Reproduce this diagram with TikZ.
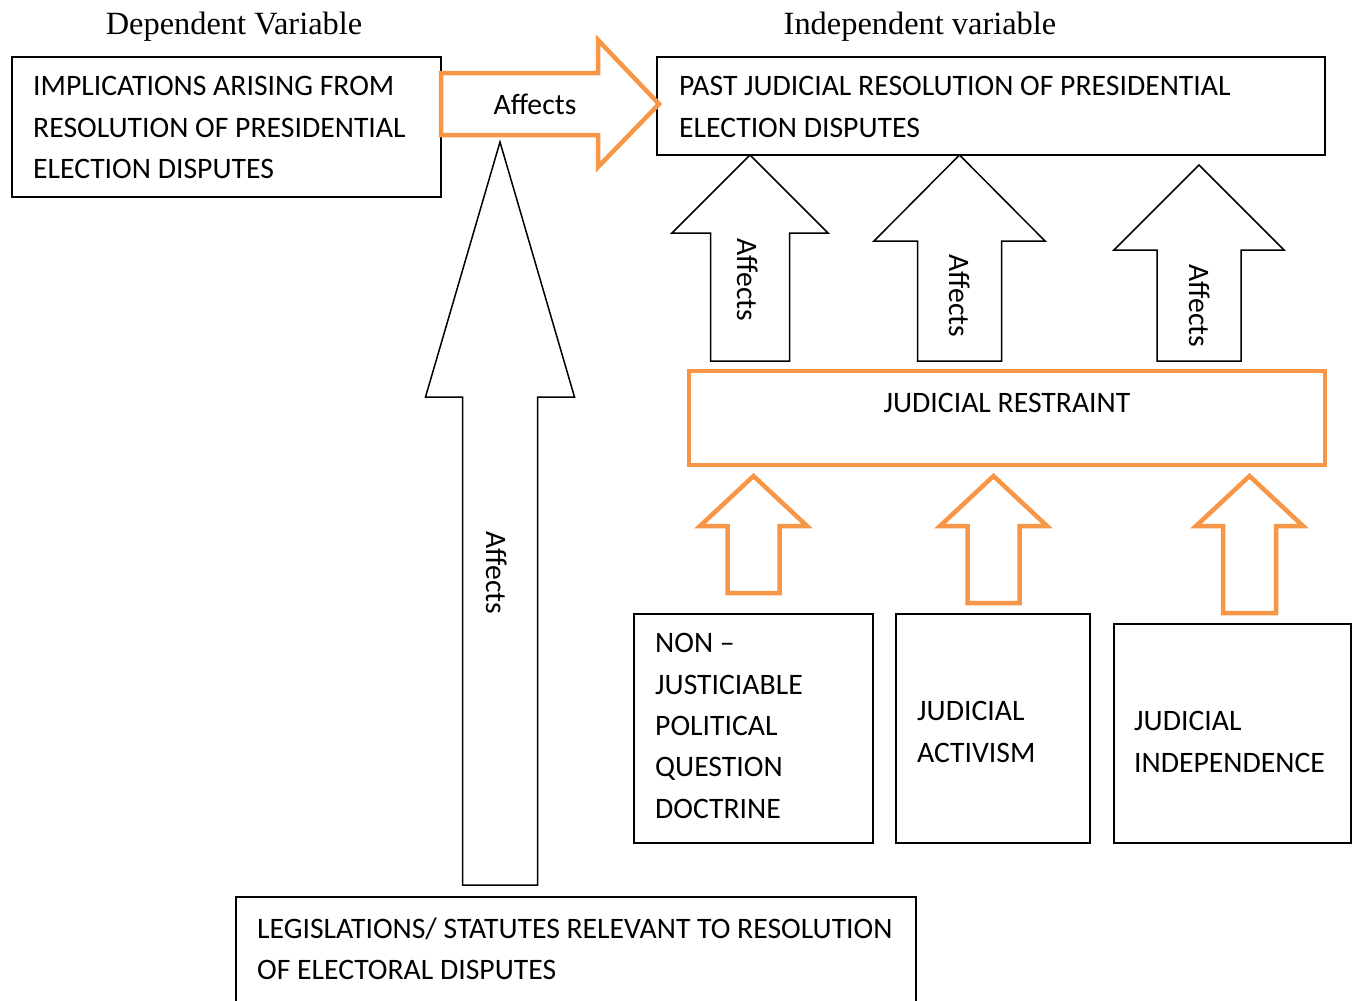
\documentclass[tikz,border=0pt]{standalone}
\usepackage{fontspec}
\newfontfamily\calib{Carlito}
\newfontfamily\timesf{Liberation Serif}
\definecolor{acorange}{RGB}{247,150,70}
\newcommand{\blockup}[7]{\draw[#1] (#2,#3) -- ({#2+#4},#5) -- ({#2+#6},#5) -- ({#2+#6},#7) -- ({#2-#6},#7) -- ({#2-#6},#5) -- ({#2-#4},#5) -- cycle;}
\begin{document}
\begin{tikzpicture}[x=1pt,y=-1pt,
  box/.style={draw=black, line width=1.5pt, inner sep=0pt, outer sep=0pt, anchor=north west},
  obox/.style={draw=acorange, line width=4.5pt, inner sep=0pt, outer sep=0pt, anchor=north west},
  txt/.style={inner sep=0pt, align=left, anchor=north west, font=\calib\fontsize{29.7}{41.3}\selectfont},
  lbl/.style={inner sep=0pt, anchor=center, font=\calib\fontsize{29.7}{34}\selectfont},
  ttl/.style={inner sep=0pt, anchor=center, font=\timesf\fontsize{32.4}{36}\selectfont},
  blk/.style={draw=black, line width=1.5pt, line join=miter, fill=white},
  oblk/.style={draw=acorange, line width=4.5pt, line join=miter, fill=white},
]
\useasboundingbox (0,0) rectangle (1357,1001);
\clip (0,0) rectangle (1357,1001);
\fill[white] (0,0) rectangle (1357,1001);

% titles
\node[ttl] (dep) at (234,27) {Dependent Variable};
\node[ttl] (indep) at (920,27) {Independent variable};

% boxes
\node[box, minimum width=429pt, minimum height=140pt] (imp) at (12,57) {};
\node[txt] (imptxt) at (33,76.5) {IMPLICATIONS ARISING FROM\\RESOLUTION OF PRESIDENTIAL\\ELECTION DISPUTES};

\node[box, minimum width=668pt, minimum height=98pt] (past) at (657,57) {};
\node[txt] (pasttxt) at (679,76.5) {PAST JUDICIAL RESOLUTION OF PRESIDENTIAL\\ELECTION DISPUTES};

\node[obox, minimum width=636pt, minimum height=94pt] (restr) at (689,371) {};
\node[lbl] (restrtxt) at (1007,403) {JUDICIAL RESTRAINT};

\node[box, minimum width=239pt, minimum height=229pt] (non) at (634,614) {};
\node[txt] (nontxt) at (655,633.5) {NON –\\JUSTICIABLE\\POLITICAL\\QUESTION\\DOCTRINE};

\node[box, minimum width=194pt, minimum height=229pt] (act) at (896,614) {};
\node[txt] (acttxt) at (917,701.5) {JUDICIAL\\ACTIVISM};

\node[box, minimum width=237pt, minimum height=219pt] (ind) at (1114,624) {};
\node[txt] (indtxt) at (1134,711.5) {JUDICIAL\\INDEPENDENCE};

\node[box, minimum width=680pt, minimum height=120pt] (leg) at (236,897) {};
\node[txt] (legtxt) at (257,917.5) {LEGISLATIONS/ STATUTES RELEVANT TO RESOLUTION\\OF ELECTORAL DISPUTES};

% orange right arrow: imp -> past
\draw[oblk] (441,73) -- (598,73) -- (598,40) -- (659,104) -- (598,167) -- (598,135) -- (441,135) -- cycle;
\node[lbl] (aff0) at (535,104) {Affects};

% big arrow: leg -> imp
\blockup{blk}{500}{142}{74.5}{397}{37.5}{885}
\node[lbl, rotate=-90] (aff1) at (497,573) {Affects};

% black arrows: restr -> past
\blockup{blk}{750}{155}{78}{233}{39.5}{361}
\node[lbl, rotate=-90] (aff2) at (748,280) {Affects};
\blockup{blk}{959.5}{155}{85.5}{241}{42}{361}
\node[lbl, rotate=-90] (aff3) at (960,296) {Affects};
\blockup{blk}{1199}{165}{85}{250}{42}{361}
\node[lbl, rotate=-90] (aff4) at (1200,306) {Affects};

% orange arrows: lower boxes -> restr
\blockup{oblk}{753.5}{476}{53.5}{526}{26}{593}
\blockup{oblk}{993.5}{476}{53.5}{526}{26}{603}
\blockup{oblk}{1249.5}{476}{53.5}{526}{26.5}{613}
\end{tikzpicture}
\end{document}
